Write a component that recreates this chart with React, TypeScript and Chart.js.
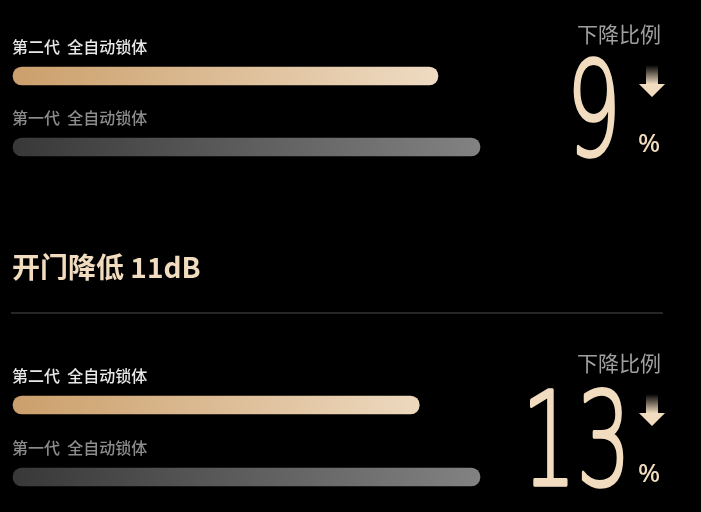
import React, { useEffect, useRef } from 'react'
import { Chart, registerables } from 'chart.js'

Chart.register(...registerables)

// two panels, gen2 vs gen1 (gen1 = 100 baseline)
const categories = ['第二代  全自动锁体', '第一代  全自动锁体']
const closeValues = [91, 100]
const openValues = [87, 100]
const dropTitle = '下降比例'
const openHeading = '开门降低 11dB'

const CJK = "'Noto Sans CJK SC', 'Noto Sans', sans-serif"
const BEIGE = '#f1dcbf'

const drawArrow = (ctx, x, y) => {
  // x = center, y = top
  const g = ctx.createLinearGradient(0, y, 0, y + 32)
  g.addColorStop(0, 'rgba(241,220,191,0)')
  g.addColorStop(0.6, BEIGE)
  g.addColorStop(1, BEIGE)
  ctx.fillStyle = g
  ctx.beginPath()
  ctx.moveTo(x - 6, y)
  ctx.lineTo(x + 6, y)
  ctx.lineTo(x + 6, y + 19)
  ctx.lineTo(x + 13, y + 19)
  ctx.lineTo(x, y + 32)
  ctx.lineTo(x - 13, y + 19)
  ctx.lineTo(x - 6, y + 19)
  ctx.closePath()
  ctx.fill()
}

const panelPlugin = {
  id: 'panelText',
  afterDraw(chart, args, opts) {
    const { ctx, chartArea } = chart
    const meta = chart.getDatasetMeta(0)
    ctx.save()
    // labels above each bar
    meta.data.forEach((bar, i) => {
      ctx.font = `500 16px ${CJK}`
      ctx.fillStyle = i === 0 ? '#e8e8e8' : '#8c8c8c'
      ctx.textBaseline = 'middle'
      ctx.textAlign = 'left'
      ctx.fillText(categories[i], 12, bar.y - 29)
    })
    const values = chart.data.datasets[0].data
    const drop = Math.round(values[1] - values[0])
    // title
    ctx.font = `21px ${CJK}`
    ctx.fillStyle = '#a0a0a0'
    ctx.textAlign = 'right'
    ctx.textBaseline = 'middle'
    ctx.fillText(dropTitle, 661, chartArea.top - 42)
    // big number, narrow + thin
    const base = chartArea.bottom + 8
    ctx.save()
    ctx.translate(opts.numRight, base)
    ctx.scale(0.66, 1)
    ctx.font = `200 130px 'DejaVu Sans ExtraLight', 'DejaVu Sans', sans-serif`
    ctx.fillStyle = BEIGE
    ctx.strokeStyle = BEIGE
    ctx.lineWidth = 3.5
    ctx.lineJoin = 'round'
    ctx.textAlign = 'right'
    ctx.textBaseline = 'alphabetic'
    ctx.fillText(String(drop), 0, 0)
    ctx.strokeText(String(drop), 0, 0)
    ctx.restore()
    ctx.font = `500 26px 'Noto Sans', sans-serif`
    ctx.fillStyle = BEIGE
    ctx.textAlign = 'center'
    ctx.fillText('%', 649, base - 10)
    drawArrow(ctx, 652, chartArea.top - 11)

    if (opts.heading) {
      ctx.font = `bold 28px ${CJK}`
      ctx.fillStyle = BEIGE
      ctx.textAlign = 'left'
      ctx.textBaseline = 'middle'
      ctx.fillText(opts.heading, 12, 267)
      ctx.fillStyle = '#262626'
      ctx.fillRect(11, 312, 652, 2)
    }
    ctx.restore()
  }
}

const barColor = (c) => {
  const ca = c.chart.chartArea
  if (!ca) return '#888'
  const g = c.chart.ctx.createLinearGradient(ca.left, 0, ca.right, 0)
  if (c.dataIndex === 0) {
    g.addColorStop(0, '#cb9f6b')
    g.addColorStop(1, '#f2e1cb')
  } else {
    g.addColorStop(0, '#383838')
    g.addColorStop(1, '#828282')
  }
  return g
}

const makeChart = (canvas, values, pad, opts) =>
  new Chart(canvas.getContext('2d'), {
    type: 'bar',
    data: {
      labels: categories,
      datasets: [
        {
          data: values,
          backgroundColor: barColor,
          borderRadius: 9,
          borderSkipped: false,
          barThickness: 18,
          clip: false
        }
      ]
    },
    options: {
      indexAxis: 'y',
      animation: false,
      responsive: false,
      events: [],
      layout: { padding: pad },
      scales: {
        x: { display: false, min: 0, max: 100 },
        y: { display: false, offset: false }
      },
      plugins: {
        legend: { display: false },
        tooltip: { enabled: false },
        panelText: opts
      }
    },
    plugins: [panelPlugin]
  })

const App = () => {
  const topRef = useRef(null)
  const botRef = useRef(null)

  useEffect(() => {
    document.body.style.margin = '0'
    document.body.style.background = '#000'
    const a = makeChart(topRef.current, closeValues, { left: 13, right: 221, top: 76, bottom: 183 }, { numRight: 621, heading: openHeading })
    const b = makeChart(botRef.current, openValues, { left: 13, right: 221, top: 75, bottom: 35 }, { numRight: 631 })
    return () => {
      a.destroy()
      b.destroy()
    }
  }, [])

  return (
    <div style={{ position: 'relative', width: 701, height: 512, background: '#000' }}>
      <canvas ref={topRef} width={701} height={330} style={{ position: 'absolute', left: 0, top: 0 }} />
      <canvas ref={botRef} width={701} height={182} style={{ position: 'absolute', left: 0, top: 330 }} />
    </div>
  )
}

export default App
